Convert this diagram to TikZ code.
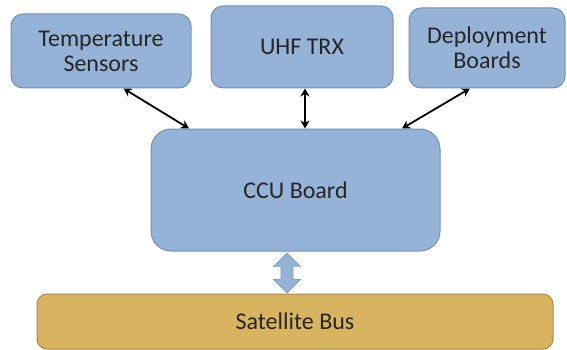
\documentclass[tikz,border=0pt]{standalone}
\usepackage{fontspec}
\setmainfont{Carlito}
\usetikzlibrary{shapes.arrows, arrows.meta}
\definecolor{boxblue}{HTML}{95B3D7}
\definecolor{boxline}{HTML}{7391B5}
\definecolor{busgold}{HTML}{D8B460}
\definecolor{busline}{HTML}{A58C4E}
\definecolor{txtgray}{HTML}{262626}

\begin{document}
\begin{tikzpicture}[x=1pt, y=-1pt,
    box/.style={draw=boxline, fill=boxblue, rectangle, rounded corners=12pt, line width=1pt, text=txtgray, align=center, font=\fontsize{24}{25}\selectfont, inner sep=0pt},
    arrow/.style={{Stealth[length=8pt, width=9pt]}-{Stealth[length=8pt, width=9pt]}, line width=1.8pt, black}
]
\useasboundingbox (0,0) rectangle (567,350);
\node[box, minimum width=180pt, minimum height=74pt] (temp) at (101,51) {Temperature\\Sensors};
\node[box, minimum width=182pt, minimum height=82pt] (uhf) at (302,47) {UHF TRX};
\node[box, minimum width=156pt, minimum height=80pt] (deploy) at (487,48) {Deployment\\Boards};
\node[box, minimum width=289pt, minimum height=122pt, rounded corners=20pt] (ccu) at (295.5,190) {CCU Board};
\node[box, draw=busline, fill=busgold, minimum width=516pt, minimum height=55pt, rounded corners=10pt] (bus) at (295,321.5) {Satellite Bus};
\node[double arrow, draw=boxline, fill=boxblue, rotate=90, minimum height=40pt, minimum width=27pt, double arrow head extend=7.5pt, inner xsep=0pt, inner ysep=6pt] (link) at (287,273) {};
\draw[arrow] (temp.-59) -- (ccu.150);
\draw[arrow] ([xshift=3pt]uhf.south) -- ([xshift=3pt]uhf.south |- ccu.north);
\draw[arrow] (deploy.247) -- (ccu.30);
\end{tikzpicture}
\end{document}
